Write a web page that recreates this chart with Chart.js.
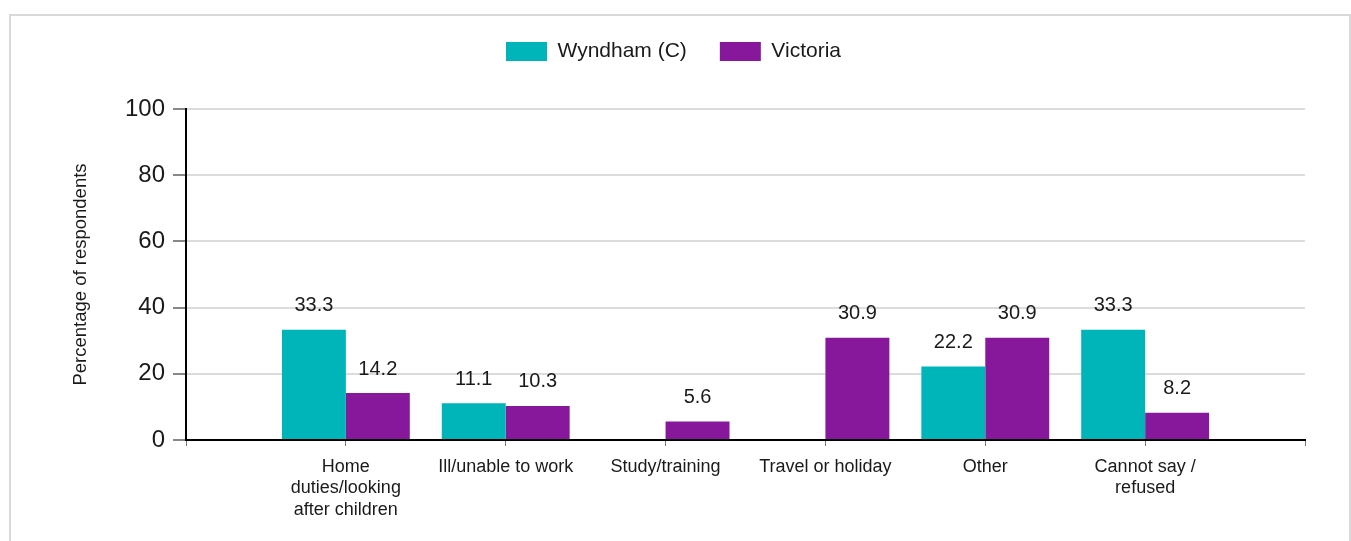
<!DOCTYPE html>
<html>
<head>
<meta charset="utf-8">
<script src="https://cdn.jsdelivr.net/npm/chart.js@4/dist/chart.umd.min.js"></script>
<style>
  html, body { margin: 0; padding: 0; background: #fff; overflow: hidden; }
  #frame { position: absolute; left: 9px; top: 14px; width: 1342px; height: 600px; border: 2px solid #d9d9d9; box-sizing: border-box; }
  #wrap { position: absolute; left: 0; top: 0; width: 1351px; height: 541px; }
</style>
</head>
<body>
<div id="frame"></div>
<div id="wrap"><canvas id="chart"></canvas></div>
<script>
// categories and series values
const categories = [
    ['Home', 'duties/looking', 'after children'],
    'Ill/unable to work',
    'Study/training',
    'Travel or holiday',
    'Other',
    ['Cannot say /', 'refused']
];
const wyndham = [33.3, 11.1, 0, 0, 22.2, 33.3];
const victoria = [14.2, 10.3, 5.6, 30.9, 30.9, 8.2];
const yTicks = [0, 20, 40, 60, 80, 100];

const FONT = "'Liberation Sans', Arial, sans-serif";
Chart.defaults.font.family = FONT;
Chart.defaults.color = '#1a1a1a';

// empty slots at both ends so categories sit on the tick marks
const labels = [''].concat(categories, ['']);
const pad = arr => [null].concat(arr, [null]);

const valueLabels = {
    id: 'valueLabels',
    afterDatasetsDraw(chart) {
        const ctx = chart.ctx;
        ctx.save();
        ctx.font = '20px ' + FONT;
        ctx.fillStyle = '#1a1a1a';
        ctx.textAlign = 'center';
        ctx.textBaseline = 'middle';
        chart.data.datasets.forEach((ds, i) => {
            chart.getDatasetMeta(i).data.forEach((bar, j) => {
                const v = ds.data[j];
                if (v === null || v === 0) return;
                ctx.fillText(v.toFixed(1), bar.x, bar.y - 24);
            });
        });
        ctx.restore();
    }
};

// extra room under the legend, and nudge it right to match the page
const legendSpace = {
    id: 'legendSpace',
    beforeLayout(chart) {
        const lg = chart.legend;
        if (lg && !lg._spaced) {
            const fit = lg.fit;
            lg.fit = function () { fit.call(this); this.height += 37; };
            lg._spaced = true;
        }
    },
    afterLayout(chart) {
        chart.legend.left += 21;
        chart.legend.right += 21;
    }
};

new Chart(document.getElementById('chart'), {
    type: 'bar',
    data: {
        labels: labels,
        datasets: [
            { label: 'Wyndham (C)', data: pad(wyndham), backgroundColor: '#00b5b9' },
            { label: 'Victoria', data: pad(victoria), backgroundColor: '#87189b' }
        ]
    },
    options: {
        responsive: true,
        maintainAspectRatio: false,
        animation: false,
        layout: { padding: { top: 8, right: 46, left: 0, bottom: 0 } },
        datasets: { bar: { categoryPercentage: 0.8, barPercentage: 1.0 } },
        plugins: {
            legend: {
                position: 'top',
                labels: { boxWidth: 41, boxHeight: 19, padding: 33, font: { size: 21 }, color: '#1a1a1a' }
            },
            tooltip: { enabled: false }
        },
        scales: {
            x: {
                offset: false,
                grid: { offset: false, drawOnChartArea: false, drawTicks: true, tickLength: 6, tickColor: '#777', lineWidth: 1 },
                border: { color: '#000', width: 2 },
                ticks: { font: { size: 18, lineHeight: 1.2 }, color: '#1a1a1a', padding: 10, maxRotation: 0, autoSkip: false },
                afterFit(scale) { scale.height = 101; }
            },
            y: {
                min: 0,
                max: 100,
                afterBuildTicks(scale) { scale.ticks = yTicks.map(v => ({ value: v })); },
                grid: { color: '#dcdcdc', lineWidth: 2, tickLength: 13, tickColor: '#888' },
                border: { color: '#000', width: 2 },
                ticks: { font: { size: 24 }, color: '#1a1a1a', padding: 8 },
                title: { display: true, text: 'Percentage of respondents', font: { size: 18.5 }, color: '#1a1a1a', padding: { top: 70, bottom: 0 } },
                afterFit(scale) { scale.width = 186; }
            }
        }
    },
    plugins: [valueLabels, legendSpace]
});
</script>
</body>
</html>
